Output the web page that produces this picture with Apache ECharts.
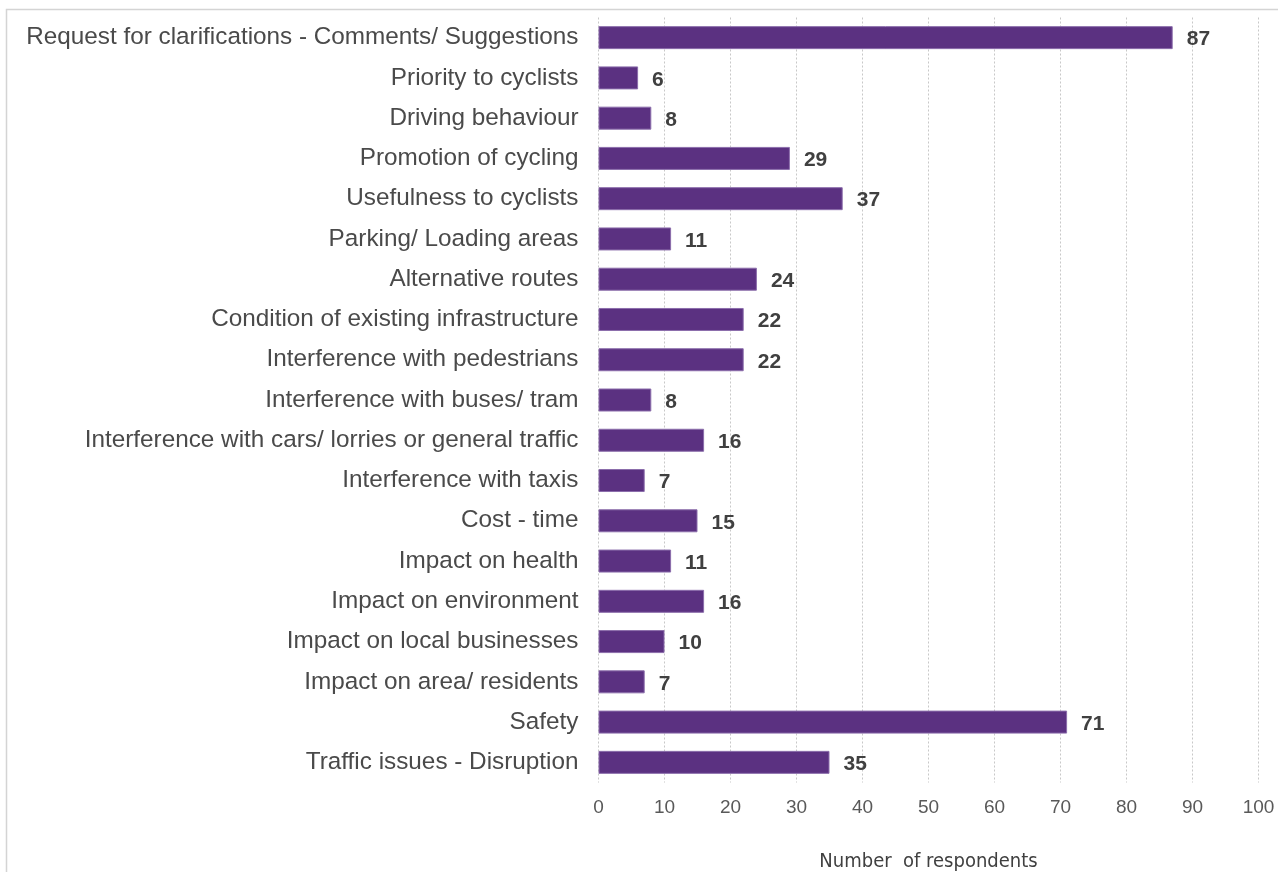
<!DOCTYPE html>
<html>
<head>
<meta charset="utf-8">
<script src="https://cdn.jsdelivr.net/npm/echarts@6/dist/echarts.min.js"></script>
<style>
  html, body { margin: 0; padding: 0; background: #fff; }
  #chart { width: 1278px; height: 872px; }
</style>
</head>
<body>
<div id="chart"></div>
<script>
const categories = [
  'Request for clarifications - Comments/ Suggestions',
  'Priority to cyclists',
  'Driving behaviour',
  'Promotion of cycling',
  'Usefulness to cyclists',
  'Parking/ Loading areas',
  'Alternative routes',
  'Condition of existing infrastructure',
  'Interference with pedestrians',
  'Interference with buses/ tram',
  'Interference with cars/ lorries or general traffic',
  'Interference with taxis',
  'Cost - time',
  'Impact on health',
  'Impact on environment',
  'Impact on local businesses',
  'Impact on area/ residents',
  'Safety',
  'Traffic issues - Disruption'
];
const respondents = [87, 6, 8, 29, 37, 11, 24, 22, 22, 8, 16, 7, 15, 11, 16, 10, 7, 71, 35];
const xTicks = [0, 100, 10]; // min, max, interval

const chart = echarts.init(document.getElementById('chart'));
const option = {
  animation: false,
  backgroundColor: '#fff',
  graphic: [{
    type: 'rect',
    shape: { x: 6.5, y: 9.5, width: 1400, height: 1000 },
    style: { fill: 'none', stroke: '#d4d4d4', lineWidth: 1.5 },
    silent: true
  }],
  grid: { left: 598.5, right: 19.5, top: 17.5, bottom: 89.5, containLabel: false, outerBoundsMode: 'none' },
  xAxis: {
    type: 'value',
    min: xTicks[0],
    max: xTicks[1],
    interval: xTicks[2],
    name: 'Number  of respondents',
    nameLocation: 'middle',
    nameGap: 69,
    nameTextStyle: { fontFamily: 'DejaVu Sans Condensed, Noto Sans', fontSize: 20, color: '#404040' },
    axisLine: { show: false },
    axisTick: { show: false },
    axisLabel: { color: '#595959', fontSize: 19, margin: 16, fontFamily: 'Liberation Sans Narrow, Liberation Sans, Arial' },
    splitLine: { show: true, lineStyle: { color: '#c8c8c8', type: [2, 2], width: 1 } }
  },
  yAxis: {
    type: 'category',
    data: categories,
    inverse: true,
    axisLine: { show: false },
    axisTick: { show: false },
    axisLabel: { color: '#4a4a4a', fontSize: 24.3, margin: 20, padding: [4, 0, 0, 0], fontFamily: 'Liberation Sans, Arial' }
  },
  series: [{
    type: 'bar',
    data: respondents,
    barWidth: 23,
    itemStyle: { color: '#5b3181', borderColor: '#8b6dab', borderWidth: 1 },
    label: {
      show: true,
      position: 'right',
      distance: 14,
      offset: [0, 2],
      color: '#404040',
      fontWeight: 'bold',
      fontSize: 21,
      fontFamily: 'Liberation Sans, Arial'
    }
  }]
};
chart.setOption(option);
</script>
</body>
</html>
